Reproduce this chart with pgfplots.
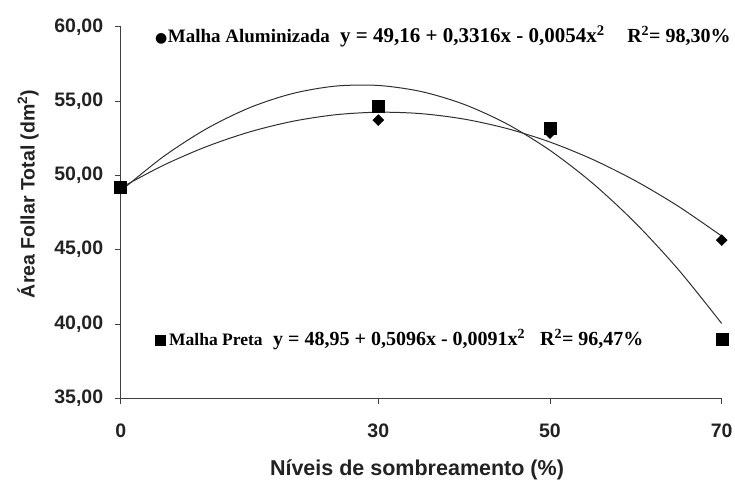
\documentclass[border=0pt]{standalone}
\usepackage{fontspec}
\setmainfont{Liberation Serif}
\newfontfamily\arialf{Liberation Sans}
\newfontfamily\dejavu{DejaVu Sans}
\usepackage{pgfplots}
\pgfplotsset{compat=1.18}
\definecolor{axisgray}{HTML}{404040}
\definecolor{txtgray}{HTML}{222222}
\definecolor{curvecol}{HTML}{303030}
\begin{document}
\begin{tikzpicture}
\begin{axis}[
  scale only axis,
  width=601pt, height=371.6pt,
  xmin=0, xmax=70, ymin=35, ymax=60,
  axis lines=left,
  axis line style={-, draw=axisgray, line width=1.1pt},
  clip=false,
  xtick={0,30,50,70},
  ytick={35,40,45,50,55,60},
  tick align=outside,
  major tick length=6pt,
  tick style={draw=axisgray, line width=0.9pt},
  /pgf/number format/assume math mode=true,
  xticklabel style={font=\arialf\bfseries\fontsize{19.5}{19.5}\selectfont, text=txtgray, yshift=-16pt},
  yticklabel style={font=\arialf\bfseries\fontsize{19.5}{19.5}\selectfont, text=txtgray,
    /pgf/number format/fixed, /pgf/number format/fixed zerofill,
    /pgf/number format/precision=2, /pgf/number format/use comma, xshift=-8pt},
  xlabel={Níveis de sombreamento (\%)},
  xlabel style={font=\arialf\bfseries\fontsize{21.5}{21.5}\selectfont, text=txtgray,
    at={(axis description cs:0.493,-0.2064)}, anchor=base},
  ylabel={Área Follar Total (dm\textsuperscript{2})},
  ylabel style={font=\arialf\bfseries\fontsize{19.5}{19.5}\selectfont, text=txtgray,
    at={(axis description cs:-0.1542,0.55)}, anchor=center},
]
% fitted curve Malha Aluminizada
\addplot[curvecol, line width=1pt, smooth, no marks] coordinates {
 (0,49.160) (5,50.683) (10,51.936) (15,52.919) (20,53.632) (25,54.075) (30,54.248)
 (35,54.151) (40,53.784) (45,53.147) (50,52.240) (55,51.063) (60,49.616) (65,47.899) (70,45.912)};
% fitted curve Malha Preta
\addplot[curvecol, line width=1pt, smooth, no marks] coordinates {
 (0,48.950) (5,51.271) (10,53.136) (15,54.547) (20,55.502) (25,56.003) (30,56.048)
 (35,55.639) (40,54.774) (45,53.455) (50,51.680) (55,49.451) (60,46.766) (65,43.627) (70,40.032)};
% observed Malha Aluminizada
\addplot[only marks, mark=square*, mark size=3.9pt, mark options={rotate=45, fill=black, draw=black}] coordinates {
 (0,49.16) (30,53.72) (50,52.85) (70,45.64)};
% observed Malha Preta
\addplot[only marks, mark=square*, mark size=6pt, mark options={fill=black, draw=black}] coordinates {
 (0,49.23) (30,54.62) (50,53.14) (70,38.97)};
% annotations
\node[anchor=base west, inner sep=0pt, font=\bfseries\fontsize{19}{19}\selectfont] at (axis cs:3.99,58.92)
  {{\dejavu\fontsize{14}{14}\selectfont ●}\hspace{0.5pt}Malha Aluminizada};
\node[anchor=base west, inner sep=0pt, font=\bfseries\fontsize{21}{21}\selectfont] at (axis cs:25.53,58.92)
  {y = 49,16 + 0,3316x - 0,0054x\textsuperscript{2}};
\node[anchor=base west, inner sep=0pt, font=\bfseries\fontsize{20}{20}\selectfont] at (axis cs:58.98,58.92)
  {R\textsuperscript{2}= 98,30\%};
\node[anchor=base west, inner sep=0pt, font=\bfseries\fontsize{17.5}{17.5}\selectfont] at (axis cs:3.99,38.54)
  {\rule{11pt}{11pt}\hspace{3pt}Malha Preta};
\node[anchor=base west, inner sep=0pt, font=\bfseries\fontsize{20}{20}\selectfont] at (axis cs:17.74,38.54)
  {y = 48,95 + 0,5096x - 0,0091x\textsuperscript{2}};
\node[anchor=base west, inner sep=0pt, font=\bfseries\fontsize{20}{20}\selectfont] at (axis cs:48.83,38.54)
  {R\textsuperscript{2}= 96,47\%};
\end{axis}
\pgfresetboundingbox
\path (current axis.south west) ++(-120.7pt,-81.7pt) rectangle ++(735pt,480pt);
\end{tikzpicture}
\end{document}
